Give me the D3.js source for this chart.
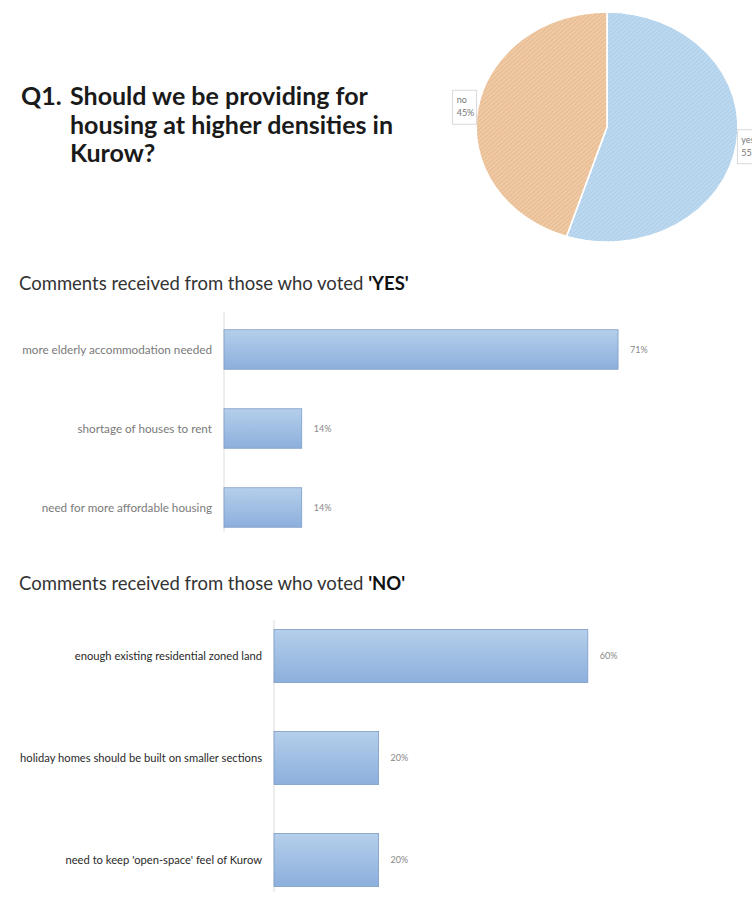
<!DOCTYPE html>
<html lang='en'>
<head>
  <title>Kurow survey Q1</title>
  <script src='https://cdn.jsdelivr.net/npm/d3@7'></script>
  <style>
    body { margin: 0; background: #fff; }
    text { font-family: Lato, 'Open Sans', sans-serif; }
  </style>
</head>
<body>
  <script>
    // pie data
    let pieLabels = ["yes", "no"];
    let pieValues = [55, 45];

    // comments from YES voters
    let yesComments = ["more elderly accommodation needed", "shortage of houses to rent", "need for more affordable housing"];
    let yesValues = [71, 14, 14];

    // comments from NO voters
    let noComments = ["enough existing residential zoned land", "holiday homes should be built on smaller sections", "need to keep 'open-space' feel of Kurow"];
    let noValues = [60, 20, 20];

    let titleLines = ["Should we be providing for", "housing at higher densities in", "Kurow?"];

    let width = 752, height = 899;
    let svg = d3.select("body").append("svg")
      .attr("width", width)
      .attr("height", height);

    let defs = svg.append("defs");
    // hatch patterns for the pie
    function hatch(id, bg, line) {
      let p = defs.append("pattern").attr("id", id)
        .attr("patternUnits", "userSpaceOnUse")
        .attr("width", 3).attr("height", 3)
        .attr("patternTransform", "rotate(45)");
      p.append("rect").attr("width", 3).attr("height", 3).attr("fill", bg);
      p.append("line").attr("x1", 0).attr("y1", 0).attr("x2", 0).attr("y2", 3)
        .attr("stroke", line).attr("stroke-width", 1);
    }
    hatch("hatch-yes", "#bcd8ef", "#a3c8e8");
    hatch("hatch-no", "#efc9a3", "#e0b084");

    // bar gradient
    let grad = defs.append("linearGradient").attr("id", "barGrad")
      .attr("x1", 0).attr("y1", 0).attr("x2", 0).attr("y2", 1);
    grad.append("stop").attr("offset", "0%").attr("stop-color", "#b5cfeb");
    grad.append("stop").attr("offset", "100%").attr("stop-color", "#8cafdc");

    // title
    let title = svg.append("text")
      .attr("font-weight", "bold")
      .attr("font-size", 25)
      .attr("fill", "#1a1a1a");
    title.append("tspan").attr("x", 21).attr("y", 105).text("Q1.");
    titleLines.forEach((t, i) => {
      title.append("tspan").attr("x", 70).attr("y", 105 + i * 28.5).text(t);
    });

    // pie chart (stretched a little horizontally like the original)
    let cx = 607, cy = 127, ry = 115, rx = 131;
    let pie = d3.pie().sort(null).value(d => d.value);
    let pieData = pie(pieLabels.map((l, i) => ({ label: l, value: pieValues[i] })));
    let arc = d3.arc().innerRadius(0).outerRadius(ry);
    let labelArc = d3.arc().innerRadius(ry * 1.1).outerRadius(ry * 1.1);
    let pieG = svg.append("g")
      .attr("transform", `translate(${cx}, ${cy}) scale(${rx / ry}, 1)`);
    pieG.selectAll("path").data(pieData).join("path")
      .attr("d", arc)
      .attr("fill", d => d.data.label == "yes" ? "url(#hatch-yes)" : "url(#hatch-no)")
      .attr("stroke", "#fff")
      .attr("stroke-width", 1.5);

    // pie labels in boxes
    let pieLab = svg.append("g").selectAll("g").data(pieData).join("g")
      .attr("transform", d => {
        let c = labelArc.centroid(d);
        return `translate(${cx + c[0] * rx / ry}, ${cy + c[1]})`;
      });
    pieLab.append("rect")
      .attr("x", -12).attr("y", -17).attr("width", 24).attr("height", 34)
      .attr("fill", "#fff").attr("stroke", "#cfcfcf").attr("stroke-width", 0.8);
    pieLab.append("text").attr("x", -8).attr("y", -4)
      .attr("font-size", 9).attr("fill", "#777").text(d => d.data.label);
    pieLab.append("text").attr("x", -8).attr("y", 9)
      .attr("font-size", 9).attr("fill", "#777").text(d => d.data.value + "%");

    // bar chart helper
    function barChart(opts) {
      let g = svg.append("g");
      let heading = g.append("text")
        .attr("x", 19).attr("y", opts.headY)
        .attr("font-size", 18.5).attr("fill", "#333");
      heading.append("tspan").text("Comments received from those who voted ");
      heading.append("tspan").attr("font-weight", "bold").attr("fill", "#111").text("'" + opts.vote + "'");

      let data = opts.cats.map((c, i) => ({ cat: c, value: opts.values[i] }));
      let y = d3.scaleBand().domain(opts.cats)
        .range(opts.yRange)
        .paddingInner(opts.padIn).paddingOuter(opts.padIn / 2);
      let x = d3.scaleLinear().domain([0, 100]).range(opts.xRange);

      g.append("line")
        .attr("x1", x(0)).attr("x2", x(0))
        .attr("y1", opts.axis[0]).attr("y2", opts.axis[1])
        .attr("stroke", "#dcdcdc").attr("stroke-width", 1);

      g.selectAll(".bar").data(data).join("rect")
        .attr("class", "bar")
        .attr("x", x(0))
        .attr("y", d => y(d.cat))
        .attr("width", d => x(d.value) - x(0))
        .attr("height", y.bandwidth())
        .attr("fill", "url(#barGrad)")
        .attr("stroke", "#7d9cc6")
        .attr("stroke-width", 0.8);

      g.selectAll(".cat").data(data).join("text")
        .attr("class", "cat")
        .attr("x", x(0) - 12)
        .attr("y", d => y(d.cat) + y.bandwidth() / 2)
        .attr("dy", "0.35em")
        .attr("text-anchor", "end")
        .attr("font-size", opts.catSize)
        .attr("fill", opts.catColor)
        .text(d => d.cat);

      g.selectAll(".val").data(data).join("text")
        .attr("class", "val")
        .attr("x", d => x(d.value) + 12)
        .attr("y", d => y(d.cat) + y.bandwidth() / 2)
        .attr("dy", "0.35em")
        .attr("font-size", 9)
        .attr("fill", "#888")
        .text(d => d.value + "%");
    }

    barChart({
      vote: "YES", headY: 290, cats: yesComments, values: yesValues,
      yRange: [310, 547], padIn: 0.5, xRange: [224, 779],
      axis: [312, 532], catSize: 11.7, catColor: "#7a7a7a"
    });
    barChart({
      vote: "NO", headY: 590, cats: noComments, values: noValues,
      yRange: [605, 911], padIn: 0.48, xRange: [274, 797],
      axis: [620, 892], catSize: 11.2, catColor: "#2a2a2a"
    });
  </script>
</body>
</html>
